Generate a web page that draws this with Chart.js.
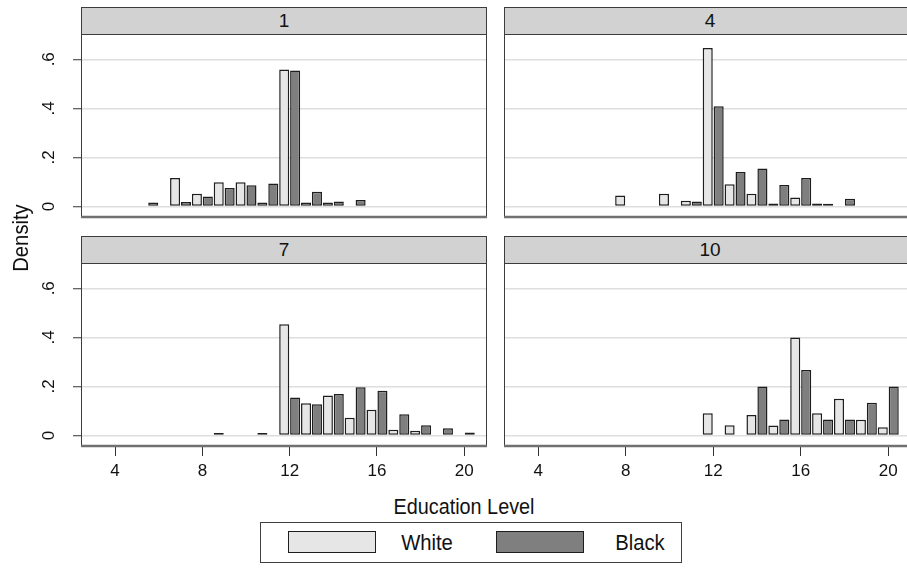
<!DOCTYPE html>
<html>
<head>
<meta charset="utf-8">
<script src="https://cdn.jsdelivr.net/npm/chart.js@4.4.1/dist/chart.umd.min.js"></script>
<style>
  html, body { margin: 0; padding: 0; background: #fff; overflow: hidden; }
  #wrap { position: relative; width: 907px; height: 570px; overflow: hidden;
          font-family: 'Liberation Sans', Arial, sans-serif; color: #111; }
  canvas { position: absolute; }
  .strip { position: absolute; box-sizing: border-box; background: #d2d2d2; border: 1px solid #3c3c3c;
           text-align: center; font-size: 19px; line-height: 26px; }
  .title { position: absolute; text-align: center; font-size: 22px; line-height: 26px; white-space: nowrap; }
  #legend { position: absolute; left: 260px; top: 522px; width: 422px; height: 41px; box-sizing: border-box;
            border: 1px solid #404040; background: #fff; }
  .swatch { position: absolute; top: 8px; width: 88px; height: 22px; box-sizing: border-box; border: 1.5px solid #1e1e1e; }
  .ltext { position: absolute; top: 7px; width: 80px; text-align: center; font-size: 22px; line-height: 26px;
           transform: scaleX(0.92); }
</style>
</head>
<body>
<div id="wrap">
  <div class="strip" style="left:81px; top:7px; width:406px; height:28px;">1</div>
  <div class="strip" style="left:504px; top:7px; width:412px; height:28px;">4</div>
  <div class="strip" style="left:81px; top:236px; width:406px; height:28px;">7</div>
  <div class="strip" style="left:504px; top:236px; width:412px; height:28px;">10</div>

  <canvas id="c1" width="462" height="186" style="left:30px; top:34px;"></canvas>
  <canvas id="c4" width="412" height="186" style="left:504px; top:34px;"></canvas>
  <canvas id="c7" width="462" height="224" style="left:30px; top:263px;"></canvas>
  <canvas id="c10" width="412" height="224" style="left:504px; top:263px;"></canvas>

  <div class="title" style="left:-29px; top:225px; width:100px; transform:rotate(-90deg) scaleX(0.92);">Density</div>
  <div class="title" style="left:364px; top:494px; width:200px; transform:scaleX(0.9);">Education Level</div>

  <div id="legend">
    <div class="swatch" style="left:27px; background:#e6e6e6;"></div>
    <div class="ltext" style="left:126px;">White</div>
    <div class="swatch" style="left:235px; background:#7f7f7f;"></div>
    <div class="ltext" style="left:339px;">Black</div>
  </div>
</div>

<script>
// education levels (years) on the x axis
const levels = [6, 7, 8, 9, 10, 11, 12, 13, 14, 15, 16, 17, 18, 19, 20];
const xTicks = [4, 8, 12, 16, 20];
const yTicks = [0, 0.2, 0.4, 0.6];
const yTickLabels = ['0', '.2', '.4', '.6'];

// densities per panel, aligned with levels (null = no bar)
const white1 = [0.016, 0.116, 0.052, 0.099, 0.099, 0.016, 0.558, 0.016, 0.016, null, null, null, null, null, null];
const black1 = [null, 0.018, 0.041, 0.075, 0.086, 0.094, 0.554, 0.060, 0.020, 0.026, null, null, null, null, null];

const white4 = [null, null, 0.045, null, 0.052, 0.023, 0.646, 0.091, 0.052, 0.012, 0.037, 0.012, null, null, null];
const black4 = [null, null, null, null, null, 0.020, 0.408, 0.140, 0.155, 0.088, 0.116, 0.011, 0.031, null, null];

const white7 = [null, null, null, 0.010, null, 0.010, 0.453, 0.131, 0.163, 0.072, 0.105, 0.023, 0.019, null, null];
const black7 = [null, null, null, null, null, null, 0.155, 0.127, 0.169, 0.197, 0.182, 0.086, 0.042, 0.029, 0.012];

const white10 = [null, null, null, null, null, null, 0.091, 0.042, 0.083, 0.041, 0.399, 0.091, 0.150, 0.064, 0.034];
const black10 = [null, null, null, null, null, null, null, null, 0.200, 0.065, 0.267, 0.065, 0.065, 0.133, 0.200];

const FONT = "'Liberation Sans', Arial, sans-serif";

// panel frame: dark box, heavier grey bottom line
const framePlugin = {
  id: 'frame',
  afterDraw(chart) {
    const { ctx, chartArea: a } = chart;
    ctx.save();
    ctx.strokeStyle = '#3c3c3c';
    ctx.lineWidth = 1;
    ctx.strokeRect(a.left + 0.5, a.top + 0.5, a.right - a.left - 1, a.bottom - a.top - 1);
    ctx.strokeStyle = '#707070';
    ctx.lineWidth = 2.5;
    ctx.beginPath();
    ctx.moveTo(a.left, a.bottom - 1);
    ctx.lineTo(a.right, a.bottom - 1);
    ctx.stroke();
    ctx.restore();
  }
};

function makePanel(id, whiteData, blackData, showY, showX) {
  const ctx = document.getElementById(id).getContext('2d');
  new Chart(ctx, {
    type: 'bar',
    data: {
      labels: levels,
      datasets: [
        { label: 'White', data: whiteData, backgroundColor: '#e6e6e6' },
        { label: 'Black', data: blackData, backgroundColor: '#7f7f7f' }
      ]
    },
    options: {
      responsive: false,
      animation: false,
      categoryPercentage: 1,
      barPercentage: 0.92,
      datasets: { bar: { borderColor: '#1e1e1e', borderWidth: 1.5, borderSkipped: false } },
      layout: { padding: { left: 0, right: 5, top: 0, bottom: showX ? 0 : 2 } },
      scales: {
        x: {
          type: 'linear',
          min: 2.44,
          max: 21.04,
          offset: false,
          display: showX,
          afterBuildTicks: s => { s.ticks = xTicks.map(v => ({ value: v })); },
          afterFit: s => {
            if (showX) s.height = 40;
            s.paddingLeft = 0;
            s.paddingRight = 0;
          },
          grid: { offset: false, drawOnChartArea: false, drawTicks: true, tickLength: 9, tickColor: '#333', tickWidth: 1 },
          border: { display: false },
          ticks: { padding: 5, color: '#111', maxRotation: 0, autoSkip: false, font: { family: FONT, size: 17 } }
        },
        y: {
          min: -0.047,
          max: 0.703,
          afterBuildTicks: s => { s.ticks = yTicks.map(v => ({ value: v })); },
          afterFit: s => { s.width = showY ? 51 : 0; s.paddingTop = 0; s.paddingBottom = 0; },
          grid: { color: '#dedede', lineWidth: 1.5, drawTicks: showY, tickLength: 8, tickColor: '#333', tickWidth: 1 },
          border: { display: false },
          ticks: {
            display: showY,
            minRotation: 90,
            maxRotation: 90,
            crossAlign: 'center',
            padding: 17,
            color: '#111',
            font: { family: FONT, size: 17 },
            callback: v => yTickLabels[yTicks.indexOf(v)]
          }
        }
      },
      plugins: {
        legend: { display: false },
        tooltip: { enabled: false }
      }
    },
    plugins: [framePlugin]
  });
}

makePanel('c1', white1, black1, true, false);
makePanel('c4', white4, black4, false, false);
makePanel('c7', white7, black7, true, true);
makePanel('c10', white10, black10, false, true);
</script>
</body>
</html>
